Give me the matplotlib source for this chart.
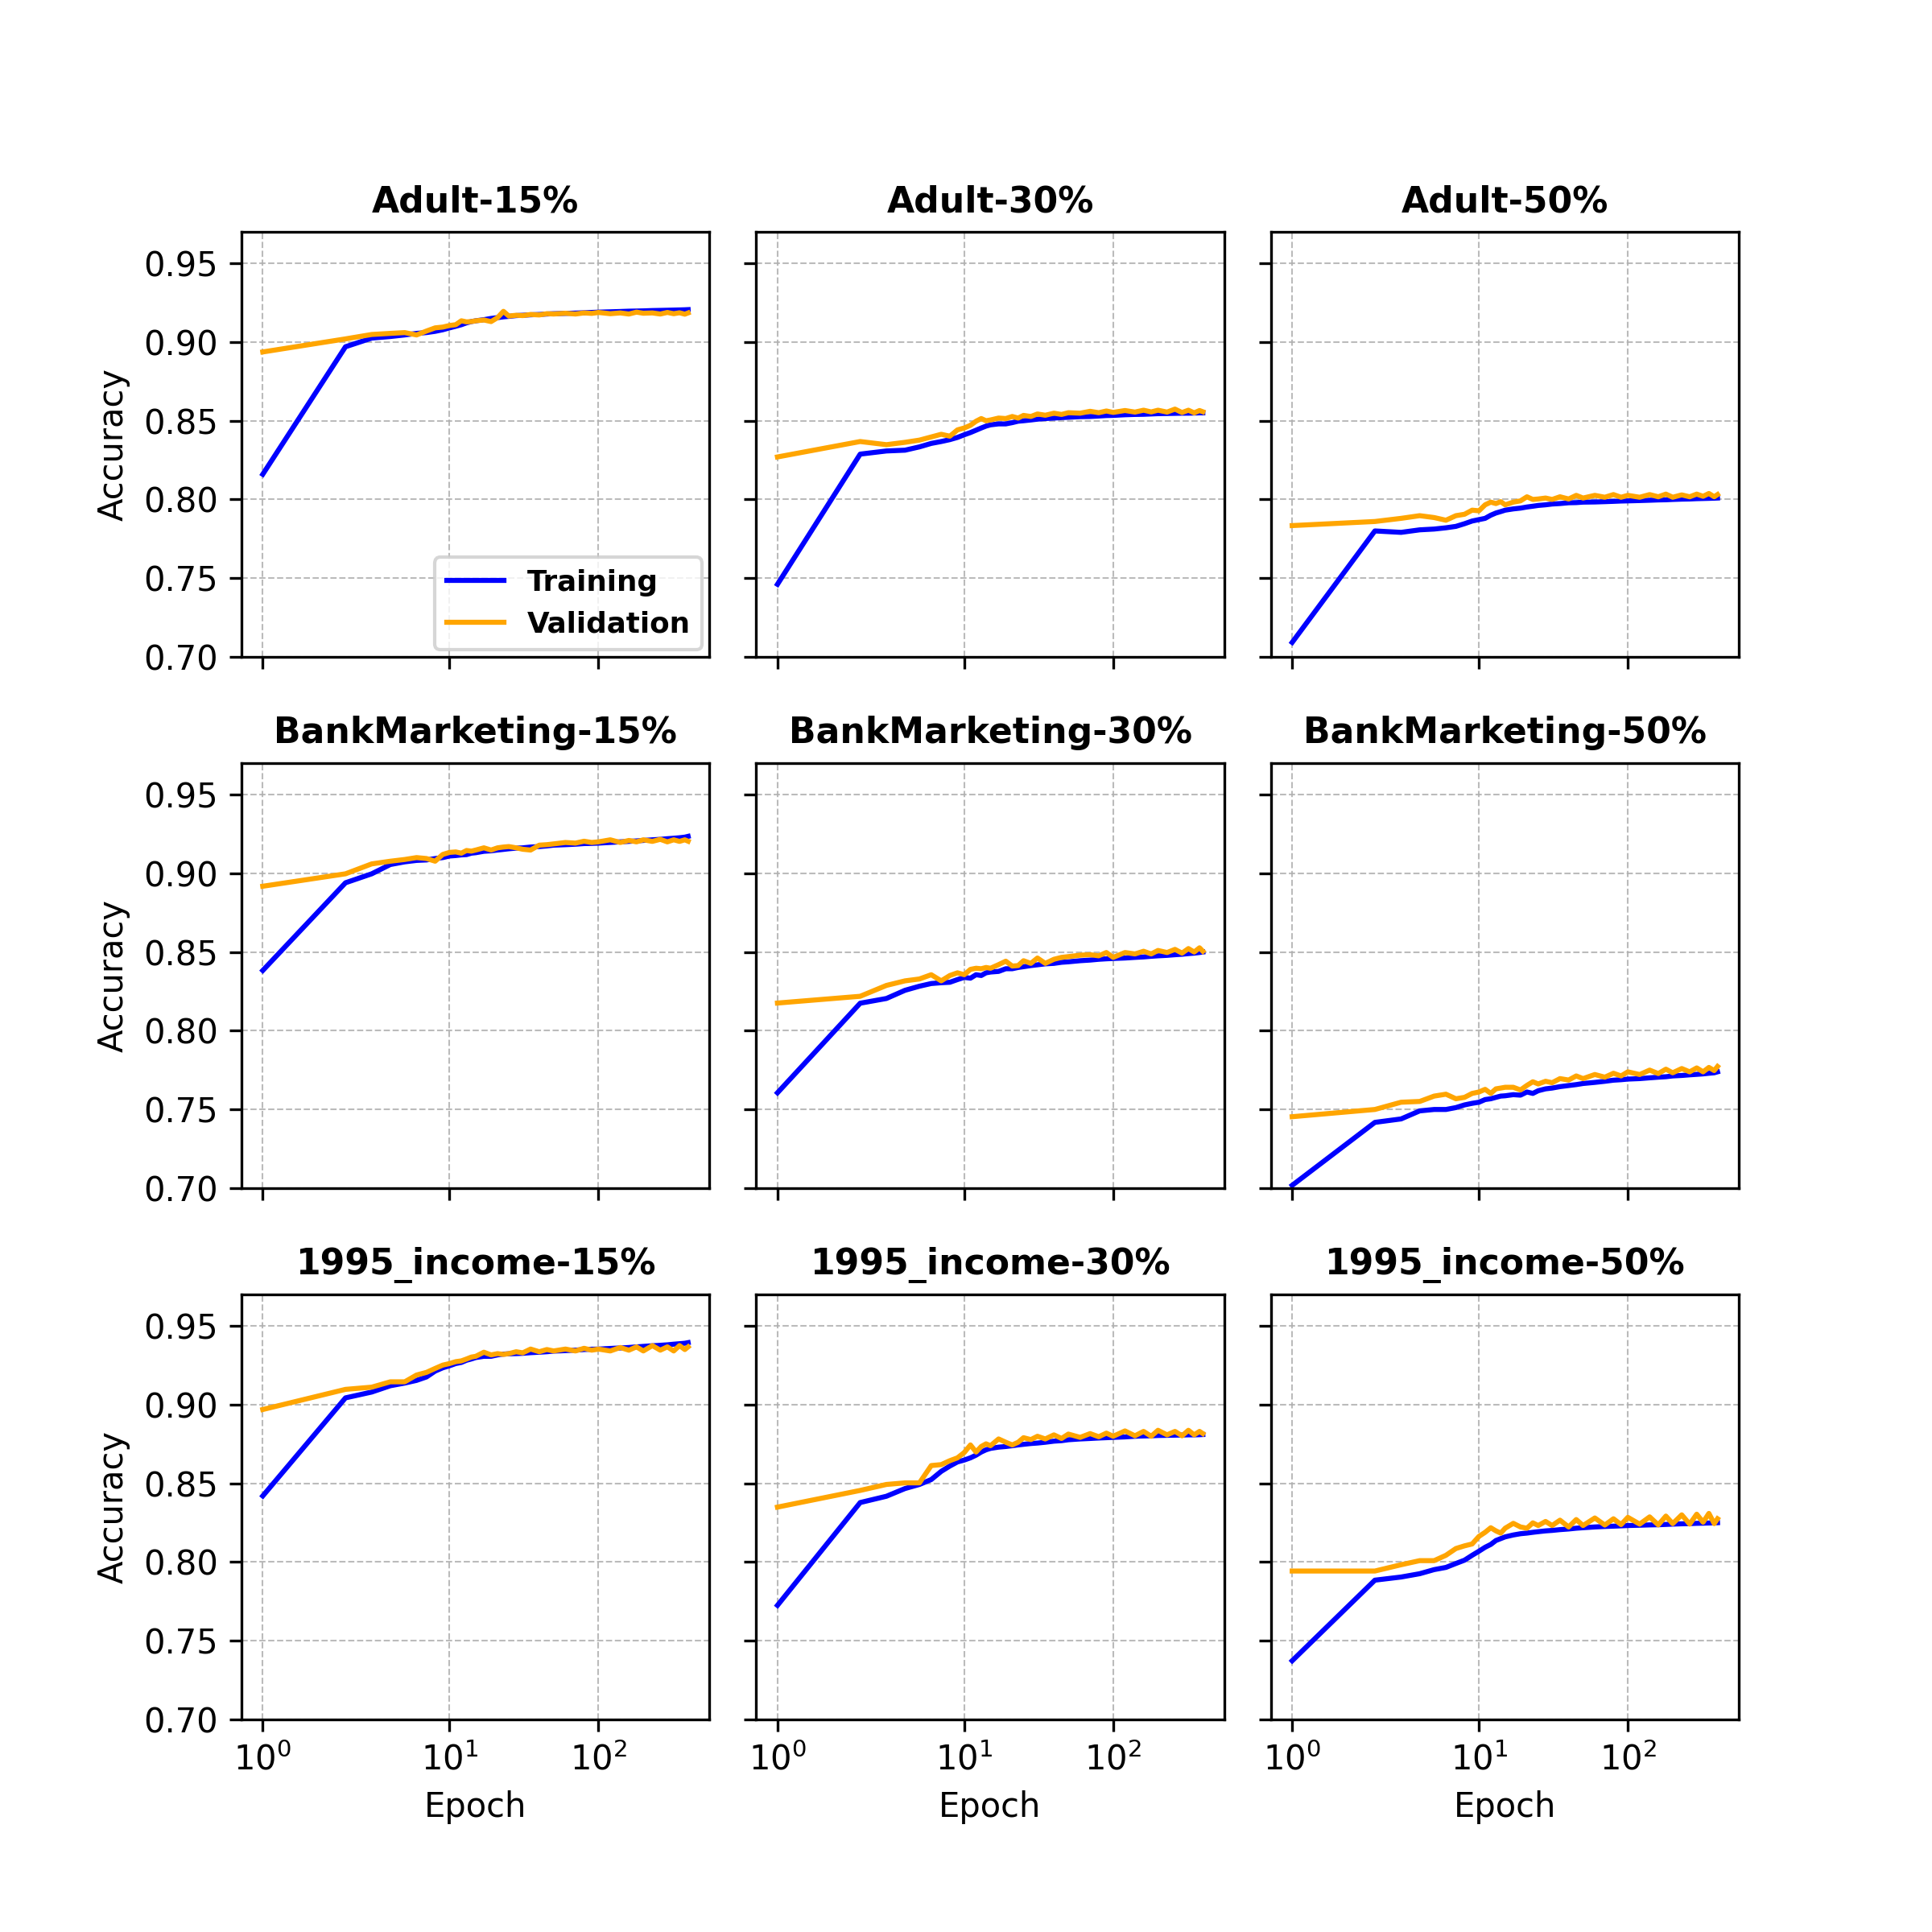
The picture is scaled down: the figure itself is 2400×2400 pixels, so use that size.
import matplotlib
matplotlib.use("Agg")
import matplotlib.pyplot as plt

# ---------------- data ----------------
datasets = ["Adult", "BankMarketing", "1995_income"]
ratios = ["15%", "30%", "50%"]

epochs = [1, 2, 3, 4, 5, 6, 7, 8, 9, 10, 11, 12, 13, 14, 15,
          17, 19, 21, 23, 25,
          28, 31, 35, 40, 45, 50,
          60, 70, 80, 90, 100,
          120, 140, 160, 180, 200,
          230, 260, 290, 320, 350, 380, 400]

adult_15_train = [.816, .897, .9025, .9035, .9045, .9055, .906, .9068, .9078, .909, .910, .911, .9122, .913, .9135,
                  .9142, .915, .9155, .916, .9163,
                  .9168, .917, .9173, .9175, .9178, .918,
                  .9182, .9184, .9186, .9188, .919,
                  .9192, .9194, .9196, .9197, .9198,
                  .920, .9201, .9202, .9203, .9204, .9205, .9206]
adult_15_val = [.8937, .902, .9048, .9055, .906, .9045, .907, .909, .9095, .9105, .911, .9135, .9128, .913, .9135,
                .914, .913, .9155, .9195, .9165,
                .917, .9168, .9175, .9172, .918, .9178,
                .9183, .9178, .9185, .9182, .9188,
                .918, .9185, .9178, .919, .9183,
                .9185, .9178, .9188, .918, .9186, .9177, .9185]

adult_30_train = [.7461, .8288, .8308, .8313, .8334, .8356, .8368, .838, .8394, .8411, .8425, .844, .8454, .8466, .8474,
                  .848, .848, .8488, .8497, .850,
                  .8505, .851, .8514, .8517, .852, .8522,
                  .8526, .8527, .853, .8533, .8534,
                  .8538, .854, .8541, .8543, .8545,
                  .8546, .8547, .8548, .8548, .8549, .855, .855]
adult_30_val = [.827, .8368, .8348, .8363, .8377, .8397, .8414, .8402, .8442, .8454, .8471, .8497, .8514, .850, .8505,
                .8517, .8514, .8527, .8517, .8534,
                .8527, .8543, .8535, .8548, .854, .8551,
                .8548, .856, .8551, .8562, .8553,
                .8565, .8555, .8567, .8556, .8567,
                .8555, .8574, .8552, .8567, .855, .8565, .8557]

adult_50_train = [.7092, .780, .7791, .7807, .7812, .782, .7829, .7846, .7863, .7872, .788, .790, .7914, .7923, .7932,
                  .794, .7945, .7952, .7957, .7962,
                  .7966, .7971, .7974, .7979, .798, .7983,
                  .7984, .7986, .7988, .799, .7991,
                  .7993, .7995, .7997, .7998, .800,
                  .8002, .8003, .8005, .8006, .8007, .8008, .8009]
adult_50_val = [.7834, .786, .788, .7897, .7885, .7868, .7897, .7906, .7932, .7928, .7966, .7983, .7974, .7986, .7966,
                .7983, .7991, .8017, .800, .8003,
                .8009, .800, .8017, .8003, .8026, .8009,
                .8026, .8014, .8031, .8014, .8026,
                .8014, .8031, .8017, .8034, .8014,
                .8029, .8017, .8034, .802, .8038, .8017, .8031]

bank_15_train = [.8383, .894, .8997, .9056, .9073, .9082, .9085, .9094, .910, .911, .9113, .9117, .9119, .9128, .9131,
                 .914, .9143, .9148, .9152, .9156,
                 .916, .9162, .9167, .917, .9174, .9179,
                 .9182, .9185, .9189, .919, .9192,
                 .9196, .920, .9203, .9206, .9209,
                 .9213, .9216, .922, .9223, .9226, .923, .9235]
bank_15_val = [.8918, .8997, .906, .9077, .9088, .910, .9094, .9077, .912, .9133, .9136, .9128, .9145, .9141, .9148,
               .9162, .9148, .9162, .9167, .917,
               .9162, .9153, .9148, .9179, .9182, .9187,
               .9196, .9192, .9204, .9196, .920,
               .9213, .9196, .9209, .920, .9213,
               .9203, .9216, .920, .9213, .9203, .9213, .9204]

bank_30_train = [.7606, .8175, .8205, .8257, .8283, .830, .8305, .8308, .8325, .8339, .8334, .8356, .8351, .8368, .8373,
                 .8377, .8394, .8394, .8402, .8407,
                 .8414, .8419, .8425, .8428, .8435, .8438,
                 .8445, .8449, .8454, .8457, .8459,
                 .8462, .8466, .8469, .8473, .8476,
                 .8479, .8483, .8486, .849, .8493, .8497, .850]
bank_30_val = [.8176, .8219, .8288, .8317, .8329, .8356, .8317, .8351, .8368, .8356, .839, .8397, .8394, .8402, .8397,
               .842, .8442, .8411, .8414, .8445,
               .8428, .8462, .8428, .8454, .8466, .8471,
               .848, .8483, .8476, .8497, .8466,
               .8497, .8488, .8505, .8488, .851,
               .8497, .8517, .8493, .8522, .850, .8527, .8505]

bank_50_train = [.7018, .7418, .744, .7491, .750, .750, .7512, .7529, .7539, .7546, .7563, .7568, .7577, .7585, .7587,
                 .7594, .7591, .7611, .7602, .7619,
                 .7631, .7636, .7645, .7652, .7658, .7665,
                 .7672, .7679, .7686, .7689, .7693,
                 .7696, .7701, .7705, .7708, .7713,
                 .7716, .772, .7723, .7726, .773, .7733, .7739]
bank_50_val = [.7454, .750, .7546, .7551, .7585, .7597, .7568, .7577, .7602, .7611, .7628, .7602, .7631, .7636, .7641,
               .7641, .7624, .7653, .7676, .7662,
               .7679, .767, .7696, .7687, .7713, .7696,
               .7722, .7705, .773, .7713, .7739,
               .7722, .775, .7728, .7756, .7733,
               .776, .7739, .7764, .7739, .7767, .7747, .7773]

inc_15_train = [.842, .9043, .908, .912, .9137, .9154, .9176, .9213, .9234, .9247, .9261, .9268, .9282, .929, .9299,
                .9307, .9307, .9316, .9321, .9323,
                .9324, .9326, .933, .9333, .9336, .934,
                .9343, .9346, .935, .9352, .9353,
                .9357, .936, .9363, .9367, .937,
                .9374, .9377, .938, .9384, .9387, .939, .9394]
inc_15_val = [.8969, .9097, .9111, .9145, .9145, .9188, .9205, .923, .9251, .9261, .9273, .9278, .929, .9302, .9307,
              .9333, .9316, .9324, .9319, .9324,
              .9336, .9329, .9353, .9336, .935, .9341,
              .9353, .9341, .9358, .9346, .9353,
              .9341, .9363, .9346, .9367, .9341,
              .9375, .9346, .9367, .9341, .9375, .935, .9367]

inc_30_train = [.7725, .8378, .8418, .8467, .8493, .8524, .8576, .861, .8636, .8648, .8662, .8679, .8699, .8713, .8722,
                .873, .8734, .8739, .8744, .8748,
                .8753, .8756, .8761, .8768, .8771, .8777,
                .8782, .8785, .8788, .879, .8792,
                .8795, .8799, .8801, .8802, .8804,
                .8805, .8806, .8807, .8808, .8808, .8809, .881]
inc_30_val = [.8349, .8455, .8493, .8503, .8503, .8613, .8619, .8644, .8662, .8696, .8744, .8699, .8734, .8751, .8739,
              .8782, .8761, .8744, .8761, .879,
              .8778, .8799, .8782, .8808, .8785, .8813,
              .8792, .8816, .8796, .8819, .8799,
              .8833, .8802, .883, .8799, .8837,
              .8808, .883, .8802, .8837, .8808, .883, .8816]

inc_50_train = [.7373, .7885, .7905, .7926, .7952, .7966, .7991, .8012, .8043, .8069, .8094, .8112, .8137, .8149, .816,
                .8172, .818, .8184, .8189, .8193,
                .8198, .8201, .8206, .821, .8215, .8218,
                .8223, .8226, .8228, .823, .8232,
                .8234, .8236, .8237, .8239, .8241,
                .8243, .8244, .8246, .8247, .8248, .8249, .825]
inc_50_val = [.7943, .7943, .7983, .8009, .8009, .8043, .8086, .8103, .8115, .8163, .8189, .8218, .8198, .8184, .8215,
              .8246, .8223, .8215, .8249, .8232,
              .8258, .8232, .8266, .8223, .827, .8232,
              .828, .8235, .8275, .8238, .8284,
              .8241, .8287, .8236, .8292, .8244,
              .830, .8241, .8304, .8253, .8309, .8244, .8275]

train_curves = [[adult_15_train, adult_30_train, adult_50_train],
                [bank_15_train, bank_30_train, bank_50_train],
                [inc_15_train, inc_30_train, inc_50_train]]
val_curves = [[adult_15_val, adult_30_val, adult_50_val],
              [bank_15_val, bank_30_val, bank_50_val],
              [inc_15_val, inc_30_val, inc_50_val]]

# ---------------- figure ----------------
fig, axes = plt.subplots(3, 3, figsize=(8, 8), dpi=300, sharex=True, sharey=True)
fig.subplots_adjust(left=0.125, right=0.9, bottom=0.11, top=0.88, wspace=0.1, hspace=0.25)

for i, ds in enumerate(datasets):
    for j, r in enumerate(ratios):
        ax = axes[i, j]
        ax.set_xscale("symlog")
        ax.plot(epochs, train_curves[i][j], color="blue", linewidth=1.5, label="Training")
        ax.plot(epochs, val_curves[i][j], color="orange", linewidth=1.5, label="Validation")
        ax.set_title(f"{ds}-{r}", fontsize=10.6, fontweight="bold")
        ax.grid(True, linestyle="--", linewidth=0.5, color="#b0b0b0", alpha=0.85)
        ax.set_ylim(0.70, 0.97)
        if j == 0:
            ax.set_ylabel("Accuracy")
        if i == 2:
            ax.set_xlabel("Epoch")

axes[0, 0].legend(loc="lower right", prop={"weight": "bold", "size": 8.6}, borderaxespad=0.25)

fig.savefig("out.png", dpi=300)
